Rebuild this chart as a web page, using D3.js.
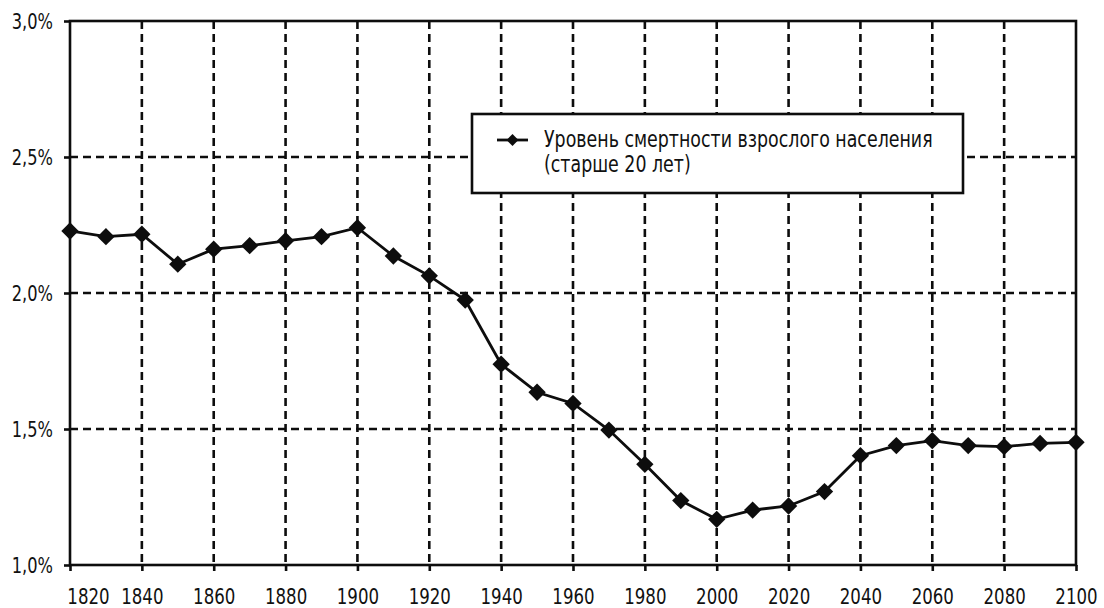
<!DOCTYPE html>
<html>
<head>
<meta charset="utf-8">
<script src="https://cdn.jsdelivr.net/npm/d3@7"></script>
<style>
  html, body { margin: 0; padding: 0; background: #fff; }
  svg { display: block; }
  text { font-family: "DejaVu Sans Condensed", "DejaVu Sans", sans-serif; font-stretch: condensed; fill: #111; }
</style>
</head>
<body>
<svg id="chart" width="1104" height="608"></svg>
<script>
// ---- data ----
const years = [1820, 1830, 1840, 1850, 1860, 1870, 1880, 1890, 1900, 1910,
               1920, 1930, 1940, 1950, 1960, 1970, 1980, 1990, 2000, 2010,
               2020, 2030, 2040, 2050, 2060, 2070, 2080, 2090, 2100];
const mortality = [2.228, 2.207, 2.216, 2.106, 2.161, 2.174, 2.192, 2.207, 2.240, 2.136,
                   2.063, 1.974, 1.738, 1.635, 1.594, 1.496, 1.370, 1.237, 1.168, 1.202,
                   1.217, 1.270, 1.402, 1.439, 1.457, 1.439, 1.435, 1.447, 1.451];
const xTickYears = [1820, 1840, 1860, 1880, 1900, 1920, 1940, 1960, 1980, 2000,
                    2020, 2040, 2060, 2080, 2100];
const yTicks = [1.0, 1.5, 2.0, 2.5, 3.0];
const legendLines = ["Уровень смертности взрослого населения", "(старше 20 лет)"];

// ---- layout ----
const svg = d3.select("#chart");
const mLeft = 70, mRight = 1076, mTop = 21, mBottom = 565;

const x = d3.scalePoint().domain(years).range([mLeft, mRight]);
const y = d3.scaleLinear().domain([1.0, 3.0]).range([mBottom, mTop]);

const fmt = v => d3.format(".1f")(v).replace(".", ",") + "%";
const INK = "#0d0d0d";

// grid
const grid = svg.append("g").attr("stroke", INK).attr("stroke-width", 2.6)
  .attr("stroke-dasharray", "8,5").attr("fill", "none");
grid.selectAll("line.v").data(xTickYears.filter(d => d !== years[0] && d !== years[years.length - 1]))
  .join("line").attr("class", "v")
  .attr("x1", d => x(d)).attr("x2", d => x(d))
  .attr("y1", mTop).attr("y2", mBottom);
grid.selectAll("line.h").data(yTicks.filter(d => d > 1.0 && d < 3.0))
  .join("line").attr("class", "h")
  .attr("x1", mLeft).attr("x2", mRight)
  .attr("y1", d => y(d)).attr("y2", d => y(d));

// frame
svg.append("rect").attr("x", mLeft).attr("y", mTop)
  .attr("width", mRight - mLeft).attr("height", mBottom - mTop)
  .attr("fill", "none").attr("stroke", INK).attr("stroke-width", 2.6);

// axes
const yAxis = svg.append("g").attr("transform", `translate(${mLeft},0)`)
  .call(d3.axisLeft(y).tickValues(yTicks).tickFormat(fmt).tickSize(6).tickPadding(0));
yAxis.select(".domain").remove();
yAxis.selectAll(".tick line").attr("stroke", INK).attr("stroke-width", 2.6);
yAxis.selectAll(".tick text")
  .attr("x", null).attr("dy", null)
  .attr("font-size", 21).attr("fill", "#111")
  .attr("transform", "translate(-17,7) scale(0.86,1)");

const xAxis = svg.append("g").attr("transform", `translate(0,${mBottom})`)
  .call(d3.axisBottom(x).tickValues(xTickYears).tickSize(6).tickPadding(0));
xAxis.select(".domain").remove();
xAxis.selectAll(".tick line").attr("stroke", INK).attr("stroke-width", 2.6);
xAxis.selectAll(".tick text")
  .attr("y", null).attr("dy", null)
  .attr("font-size", 22).attr("fill", "#111")
  .attr("transform", d => `translate(${d === years[0] ? 18 : 0},39) scale(0.84,1)`);

// line
const line = d3.line().x((d, i) => x(years[i])).y(d => y(d));
svg.append("path").datum(mortality)
  .attr("fill", "none").attr("stroke", INK).attr("stroke-width", 2.8)
  .attr("d", line);

svg.append("g").selectAll("path").data(mortality).join("path")
  .attr("d", d3.symbol().type(d3.symbolSquare).size(150))
  .attr("transform", (d, i) => `translate(${x(years[i])},${y(d)}) rotate(45)`)
  .attr("fill", INK);

// legend
const lg = svg.append("g");
lg.append("rect").attr("x", 472).attr("y", 114).attr("width", 491).attr("height", 79)
  .attr("fill", "#fff").attr("stroke", INK).attr("stroke-width", 2.6);
lg.append("line").attr("x1", 497).attr("x2", 528).attr("y1", 140).attr("y2", 140)
  .attr("stroke", INK).attr("stroke-width", 2.8);
lg.append("path").attr("d", d3.symbol().type(d3.symbolSquare).size(70))
  .attr("transform", "translate(512.5,140) rotate(45)").attr("fill", INK);
lg.selectAll("g.t").data(legendLines).join("g").attr("class", "t")
  .attr("transform", (d, i) => `translate(544,${147 + i * 25}) scale(0.86,1)`)
  .append("text")
  .attr("font-size", 22.5)
  .text(d => d);
</script>
</body>
</html>
